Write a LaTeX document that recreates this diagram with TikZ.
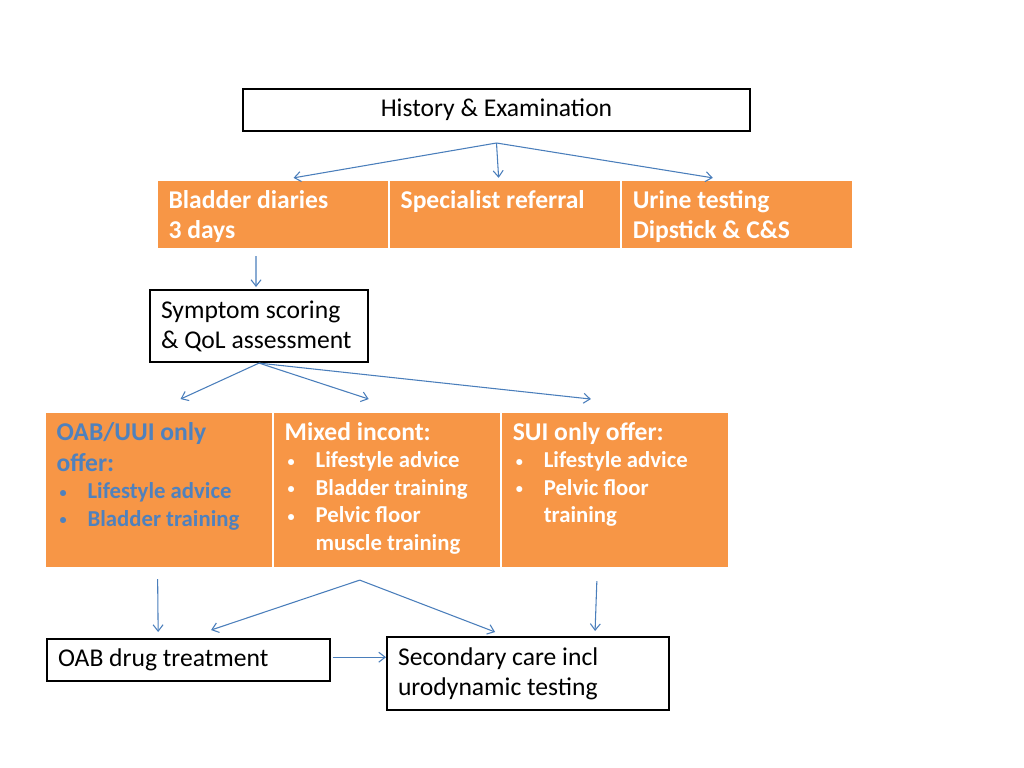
\documentclass[tikz,border=0pt]{standalone}
\usepackage{fontspec}
\setmainfont{Carlito}
\usepackage{tikz}
\usetikzlibrary{positioning,arrows.meta}

\definecolor{cellorange}{HTML}{F79646}
\definecolor{arrowblue}{HTML}{4A7EBB}
\definecolor{oabblue}{HTML}{4F81BD}

\newcommand{\cellhead}[1]{{\fontsize{18}{21.8}\selectfont #1\par}\fontsize{16}{19.3}\selectfont}
\newcommand{\cellitem}[1]{\par\hangindent=21.8pt\hangafter=1\noindent\hspace*{2.1pt}\makebox[19.7pt][l]{\raisebox{1.2pt}{\fontsize{10}{10}\selectfont\textbullet}}#1\par}

\begin{document}
\begin{tikzpicture}[x=0.7031pt, y=-0.7031pt,
                     >={Straight Barb[length=4.5pt,width=7pt]},
                     blackbox/.style={draw, line width=1.5pt, inner xsep=7.7pt, font=\fontsize{18}{21.1}\selectfont},
                     cell/.style={fill=cellorange, draw=white, line width=0.8pt, text=white, inner xsep=7.7pt, inner ysep=7pt, anchor=north west},
                     flow/.style={->, draw=arrowblue, line width=0.75pt}]
    \useasboundingbox (0,0) rectangle (1024,768);
    % Node
    \node[blackbox, minimum width=356.5pt, minimum height=29.5pt] (hist) at (496.5,110) {History \& Examination};
    \node[cell, font=\fontsize{18}{21.1}\selectfont\bfseries] (bladder) at (157,180) {\parbox[t][33.8pt][t]{147pt}{\raggedright Bladder diaries\\3 days}};
    \node[cell, font=\fontsize{18}{21.1}\selectfont\bfseries] (specialist) [right=0pt of bladder] {\parbox[t][33.8pt][t]{147pt}{\raggedright Specialist referral}};
    \node[cell, font=\fontsize{18}{21.1}\selectfont\bfseries] (urine) [right=0pt of specialist] {\parbox[t][33.8pt][t]{147pt}{\raggedright Urine testing\\Dipstick \& C\&S}};
    \node[blackbox, anchor=north west, text width=137.8pt, align=left, minimum height=50.6pt] (symptom) at (149,289) {\spaceskip=0pt\relax\mbox{Symptom scoring}\\\mbox{\& QoL assessment}};
    \node[cell, font=\bfseries] (oab) at (45,412) {\parbox[t][95pt][t]{144.2pt}{\raggedright\color{oabblue}\cellhead{OAB/UUI only\\offer:}\cellitem{Lifestyle advice}\cellitem{Bladder training}}};
    \node[cell, font=\bfseries] (mixed) [right=0pt of oab] {\parbox[t][95pt][t]{144.2pt}{\raggedright\cellhead{Mixed incont:}\cellitem{Lifestyle advice}\cellitem{Bladder training}\cellitem{Pelvic floor\hfil\break muscle training}}};
    \node[cell, font=\bfseries] (sui) [right=0pt of mixed] {\parbox[t][95pt][t]{144.2pt}{\raggedright\cellhead{SUI only offer:}\cellitem{Lifestyle advice}\cellitem{Pelvic floor\hfil\break training}}};
    \node[blackbox, anchor=north west, text width=183.6pt, align=left, minimum height=29.5pt] (drug) at (46,638) {\spaceskip=0pt\relax OAB drug treatment};
    \node[blackbox, anchor=north west, text width=182.9pt, align=left, minimum height=51.3pt] (secondary) at (386,636) {\spaceskip=0pt\relax\mbox{Secondary care incl}\\\mbox{urodynamic testing}};
    \coordinate (histfan) at ([yshift=-7.7pt]hist.south);
    \coordinate (mixfan) at ([xshift=-19.3pt,yshift=-8.4pt]mixed.south);
    % Lines
    \draw[flow] (histfan) -- ([xshift=14.4pt,yshift=1.5pt]bladder.north);
    \draw[flow] (histfan) -- ([xshift=-4.6pt,yshift=1.5pt]specialist.north);
    \draw[flow] (histfan) -- ([xshift=-17.2pt,yshift=1.5pt]urine.north);
    \draw[flow] (symptom.north |- bladder.south) ++(-3,7) -- ([xshift=-2.1pt,yshift=1.4pt]symptom.north);
    \draw[flow] (symptom.south) -- ([xshift=15.1pt,yshift=9.1pt]oab.north);
    \draw[flow] (symptom.south) -- ([xshift=-13pt,yshift=9.1pt]mixed.north);
    \draw[flow] (symptom.south) -- ([xshift=-17.2pt,yshift=9.1pt]sui.north);
    \draw[flow] ([xshift=-1pt,yshift=-7.7pt]oab.south) -- ([xshift=-21.4pt,yshift=4.2pt]drug.north);
    \draw[flow] (mixfan) -- ([xshift=15.8pt,yshift=5.6pt]drug.north);
    \draw[flow] (mixfan) -- ([xshift=-23.2pt,yshift=2.8pt]secondary.north);
    \draw[flow] ([xshift=-13pt,yshift=-9.1pt]sui.south) -- ([xshift=47.1pt,yshift=3.5pt]secondary.north);
    \draw[flow] ([xshift=1pt,yshift=2pt]drug.east) -- ([yshift=2pt]drug.east -| secondary.west);
\end{tikzpicture}
\end{document}
